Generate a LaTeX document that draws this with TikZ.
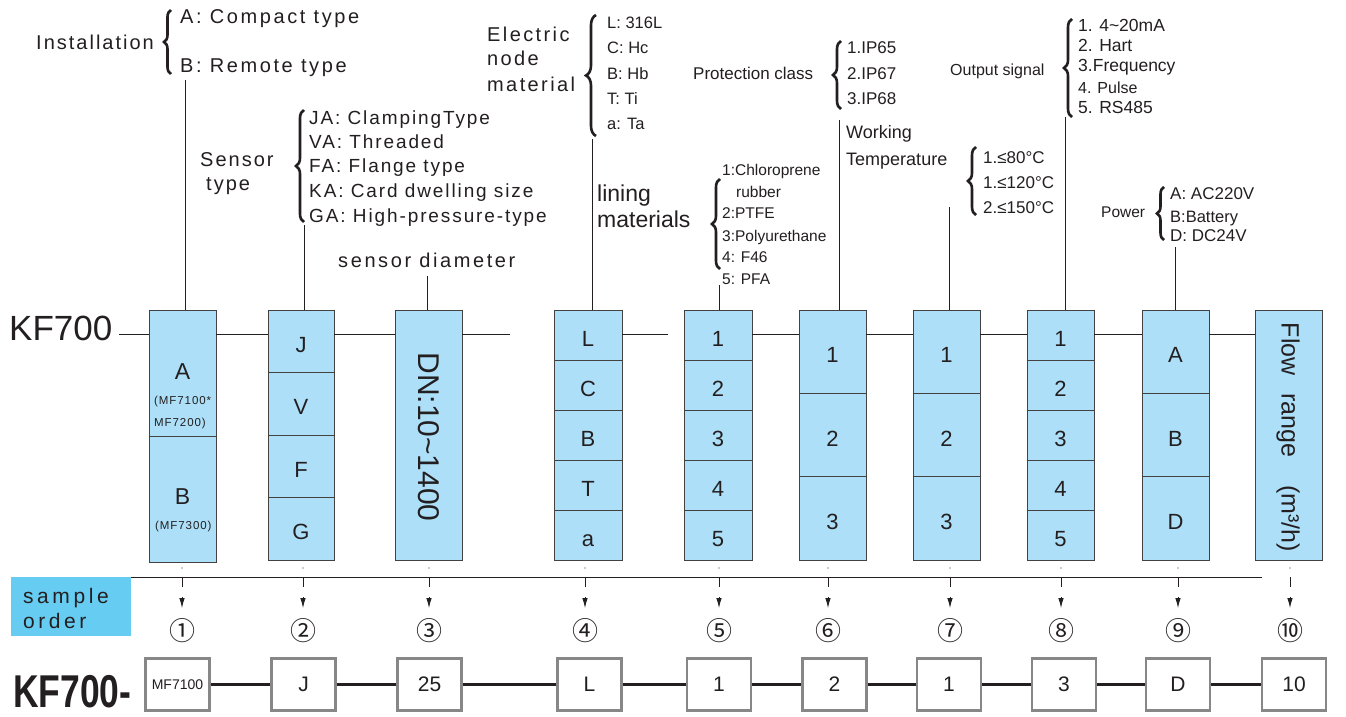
\documentclass[tikz,border=0pt]{standalone}
\usepackage{fontspec}
\setmainfont{Liberation Sans}
\newfontfamily\circfont{Noto Sans CJK SC}
\usetikzlibrary{decorations.pathreplacing,arrows.meta}
\definecolor{ink}{RGB}{35,31,32}
\definecolor{cellblue}{RGB}{173,224,248}
\definecolor{sampleblue}{RGB}{102,204,242}
\definecolor{boxgray}{RGB}{135,135,135}
\newcommand{\fs}[1]{\fontsize{#1pt}{#1pt}\selectfont}
\newcommand{\lsp}[1]{\addfontfeature{LetterSpace=#1}}
\begin{document}
\begin{tikzpicture}[x=1pt,y=-1pt,
  txt/.style={inner sep=0pt, text=ink, anchor=base west},
  lead/.style={draw=ink, line width=0.8pt},
  bracket/.style={decorate, decoration={brace, amplitude=#1}, line width=2.6pt, draw=ink},
  bracket/.default=7pt,
  cellbox/.style={draw=ink!85, fill=cellblue, line width=0.8pt, inner sep=0pt, text=ink, font=\fs{22}, text height=22pt, text depth=0pt},
  boxtxt/.style={inner sep=0pt, text=ink, font=\fs{23}},
  ordbox/.style={draw=boxgray, fill=white, line width=2.4pt, minimum width=64pt, minimum height=52pt, inner sep=0pt, text=ink, font=\fs{21}},
  tickarrow/.style={draw=ink, line width=0.8pt, dash pattern=on 10pt off 10pt, -{Latex[length=10pt,width=5.5pt]}},
  circ/.style={inner sep=0pt, text=ink, font=\circfont\fs{26}},
]
\useasboundingbox (0,0) rectangle (1346,717);
\fill[white] (0,0) rectangle (1346,717);

% ---------- top labels ----------
\node[txt, font={\fs{20}\lsp{10}}] (inst) at (36,50) {Installation};
\node[txt, font={\fs{20}\lsp{13}}] (instA) at (180,24) {A: Compact type};
\node[txt, font={\fs{20}\lsp{13}}] (instB) at (180,72) {B: Remote type};
\draw[bracket=7pt] (171,74) -- (171,10);

\node[txt, font={\fs{20}\lsp{10}}] (sens1) at (200,166) {Sensor};
\node[txt, font={\fs{20}\lsp{10}}] (sens2) at (206,190) {type};
\draw[bracket=8pt] (304,222) -- (304,110);
\node[txt, font={\fs{19}\lsp{10}}] (sJA) at (309,124) {JA: ClampingType};
\node[txt, font={\fs{19}\lsp{10}}] (sVA) at (309,148) {VA: Threaded};
\node[txt, font={\fs{19}\lsp{10}}] (sFA) at (309,172) {FA: Flange type};
\node[txt, font={\fs{19}\lsp{10}}] (sKA) at (309,197) {KA: Card dwelling size};
\node[txt, font={\fs{19}\lsp{10}}] (sGA) at (309,222) {GA: High-pressure-type};

\node[txt, font={\fs{20}\lsp{13}}] (sd) at (338,267) {sensor diameter};

\node[txt, font={\fs{20}\lsp{12}}] (el1) at (487,42) {Electric};
\node[txt, font={\fs{20}\lsp{12}}] (el2) at (487,66) {node};
\node[txt, font={\fs{20}\lsp{12}}] (el3) at (487,91) {material};
\draw[bracket=10pt] (596,136) -- (596,15);
\node[txt, font=\fs{16.5}] (eL) at (607,29) {L: 316L};
\node[txt, font=\fs{16.5}] (eC) at (607,54) {C: Hc};
\node[txt, font=\fs{16.5}] (eB) at (607,79) {B: Hb};
\node[txt, font=\fs{16.5}] (eT) at (607,104) {T: Ti};
\node[txt, font=\fs{16.5}] (ea) at (607,129) {a: Ta};

\node[txt, font=\fs{23}] (lin1) at (597,201) {lining};
\node[txt, font=\fs{23}] (lin2) at (597,227) {materials};
\draw[bracket=8pt] (720,269) -- (720,179);
\node[txt, font=\fs{15.5}] (m1) at (722,175) {1:Chloroprene};
\node[txt, font=\fs{15.5}] (m1b) at (736,197) {rubber};
\node[txt, font=\fs{15.5}] (m2) at (722,218) {2:PTFE};
\node[txt, font=\fs{15.5}] (m3) at (722,241) {3:Polyurethane};
\node[txt, font=\fs{15.5}] (m4) at (722,262) {4: F46};
\node[txt, font=\fs{15.5}] (m5) at (722,284) {5: PFA};

\node[txt, font=\fs{17}] (pc) at (693,80) {Protection class};
\draw[bracket=8pt] (841,109) -- (841,41);
\node[txt, font=\fs{17}] (p1) at (847,53) {1.IP65};
\node[txt, font=\fs{17}] (p2) at (847,79) {2.IP67};
\node[txt, font=\fs{17}] (p3) at (847,104) {3.IP68};

\node[txt, font=\fs{18}] (wt1) at (846,138) {Working};
\node[txt, font=\fs{18}] (wt2) at (846,165) {Temperature};
\draw[bracket=8pt] (976,215) -- (976,147);
\node[txt, font=\fs{17}] (t1) at (983,163) {1.≤80°C};
\node[txt, font=\fs{17}] (t2) at (983,188) {1.≤120°C};
\node[txt, font=\fs{17}] (t3) at (983,213) {2.≤150°C};

\node[txt, font=\fs{16}] (os) at (950,75) {Output signal};
\draw[bracket=8pt] (1072,117) -- (1072,19);
\node[txt, font=\fs{17.5}] (o1t) at (1078,32) {1. 4\textasciitilde20mA};
\node[txt, font=\fs{17.5}] (o2t) at (1078,52) {2. Hart};
\node[txt, font=\fs{17.5}] (o3t) at (1078,71) {3.Frequency};
\node[txt, font=\fs{16}] (o4t) at (1078,93) {4. Pulse};
\node[txt, font=\fs{17.5}] (o5t) at (1078,113) {5. RS485};

\node[txt, font=\fs{15.5}] (pw) at (1101,217) {Power};
\draw[bracket=7pt] (1164,240) -- (1164,187);
\node[txt, font=\fs{17}] (pwA) at (1170,199) {A: AC220V};
\node[txt, font=\fs{16.5}] (pwB) at (1170,222) {B:Battery};
\node[txt, font=\fs{17}] (pwD) at (1170,241) {D: DC24V};

% ---------- main code row ----------
\node[txt, font=\fs{35}] (kf) at (9,340) {KF700};

% column 1
\node[cellbox, minimum width=67pt, minimum height=126pt] (c1-1) at (182.5,373) {};
\node[cellbox, minimum width=67pt, minimum height=126pt] (c1-2) at (182.5,499) {};
\node[boxtxt] (c1A) at (182.5,372) {A};
\node[txt, font={\fs{11.5}\lsp{8}}] (c1n1) at (154,404) {(MF7100*};
\node[txt, font={\fs{11.5}\lsp{8}}] (c1n2) at (154,426) {MF7200)};
\node[boxtxt] (c1B) at (182.5,497) {B};
\node[txt, font={\fs{11.5}\lsp{8}}] (c1n3) at (155,529) {(MF7300)};

% column 2
\foreach \t [count=\i] in {J,V,F,G}
  \node[cellbox, minimum width=66pt, minimum height=62.5pt] (c2-\i) at (301,{310+62.5*\i-31.25}) {\t};

% column 3
\node[cellbox, minimum width=67pt, minimum height=250pt] (c3-1) at (428.5,435) {};
\node[rotate=-90, inner sep=0pt, text=ink, font=\fs{30}] (dn) at (428.5,437) {DN:10\textasciitilde1400};

% columns 4, 5, 8 (five cells)
\foreach \t [count=\i] in {L,C,B,T,a}
  \node[cellbox, minimum width=68pt, minimum height=50pt] (c4-\i) at (588,{310+50*\i-25}) {\t};
\foreach \t [count=\i] in {1,2,3,4,5}
  \node[cellbox, minimum width=68pt, minimum height=50pt] (c5-\i) at (718,{310+50*\i-25}) {\t};
\foreach \t [count=\i] in {1,2,3,4,5}
  \node[cellbox, minimum width=67pt, minimum height=50pt] (c8-\i) at (1060.5,{310+50*\i-25}) {\t};
% columns 6, 7, 9 (three cells)
\foreach \t [count=\i] in {1,2,3}
  \node[cellbox, minimum width=67pt, minimum height=83.33pt] (c6-\i) at (832.5,{310+83.333*\i-41.667}) {\t};
\foreach \t [count=\i] in {1,2,3}
  \node[cellbox, minimum width=67pt, minimum height=83.33pt] (c7-\i) at (946.5,{310+83.333*\i-41.667}) {\t};
\foreach \t [count=\i] in {A,B,D}
  \node[cellbox, minimum width=67pt, minimum height=83.33pt] (c9-\i) at (1175.5,{310+83.333*\i-41.667}) {\t};
% column 10
\node[cellbox, minimum width=67pt, minimum height=250pt] (c10-1) at (1288.5,435) {};
\node[rotate=-90, inner sep=0pt, text=ink, font=\fs{25}] (flow) at (1288,437.5) {Flow\hspace{18pt}range\hspace{28pt}(m³/h)};

% horizontal code line
\coordinate (h0) at (119,334);
\coordinate (h3e) at (510,334);
\coordinate (h4e) at (668,334);
\draw[lead] (h0) -- (h0 -| c1-1.west);
\draw[lead] (c1-1.east |- h0) -- (c2-1.west |- h0);
\draw[lead] (c2-1.east |- h0) -- (c3-1.west |- h0);
\draw[lead] (c3-1.east |- h0) -- (h3e);
\draw[lead] (c4-1.east |- h0) -- (h4e);
\draw[lead] (c5-1.east |- h0) -- (c6-1.west |- h0);
\draw[lead] (c6-1.east |- h0) -- (c7-1.west |- h0);
\draw[lead] (c7-1.east |- h0) -- (c8-1.west |- h0);
\draw[lead] (c8-1.east |- h0) -- (c9-1.west |- h0);
\draw[lead] (c9-1.east |- h0) -- (c10-1.west |- h0);

% leader lines from the option lists to the columns
\coordinate (v1) at (185,80);
\coordinate (v2) at (304,225);
\coordinate (v3) at (427,276);
\coordinate (v4) at (592,139);
\coordinate (v5) at (719,285);
\coordinate (v6) at (839,120);
\coordinate (v7) at (949,207);
\coordinate (v8) at (1065,117);
\coordinate (v9) at (1175,247);
\foreach \k/\c in {1/c1-1,2/c2-1,3/c3-1,4/c4-1,5/c5-1,6/c6-1,7/c7-1,8/c8-1,9/c9-1}
  \draw[lead] (v\k) -- (v\k |- \c.north);

% ---------- sample order ----------
\foreach \x in {182,303,429,585,719,828,950,1061,1178,1290}
  \fill[ink] (\x,568) circle (0.7pt);
\coordinate (bl0) at (131,577);
\coordinate (bl1) at (1262,577);
\draw[lead] (bl0) -- (bl1);
\node[fill=sampleblue, minimum width=120pt, minimum height=59pt, inner sep=0pt] (sample) at (71,606.5) {};
\node[txt, font={\fs{21}\lsp{17}}] (smp1) at (23,603) {sample};
\node[txt, font={\fs{21}\lsp{17}}] (smp2) at (23,628) {order};

\foreach \x/\c [count=\i] in {182/①,303/②,429/③,585/④,719/⑤,828/⑥,950/⑦,1061/⑧,1178/⑨,1290/⑩}{
  \node[circ] (n\i) at (\x,631) {\c};
  \coordinate (a\i) at (\x,608);
  \draw[tickarrow] (n\i |- bl0) -- (a\i);
}

% ---------- example order ----------
\node[txt, font=\bfseries\fs{46}] (kfo) at (13,707) {\scalebox{0.77}[1]{KF700-}};
\node[ordbox, font=\fs{14}] (o1) at (177.5,684.5) {MF7100};
\node[ordbox] (o2) at (303.5,684.5) {J};
\node[ordbox] (o3) at (429.5,684.5) {25};
\node[ordbox] (o4) at (589.5,684.5) {L};
\node[ordbox] (o5) at (719,684.5) {1};
\node[ordbox] (o6) at (834.5,684.5) {2};
\node[ordbox] (o7) at (949,684.5) {1};
\node[ordbox] (o8) at (1064,684.5) {3};
\node[ordbox] (o9) at (1178,684.5) {D};
\node[ordbox] (o10) at (1294,684.5) {10};
\foreach \i [evaluate=\i as \j using int(\i+1)] in {1,...,9}
  \draw[ink, line width=2.2pt] (o\i) -- (o\j);
\end{tikzpicture}
\end{document}
